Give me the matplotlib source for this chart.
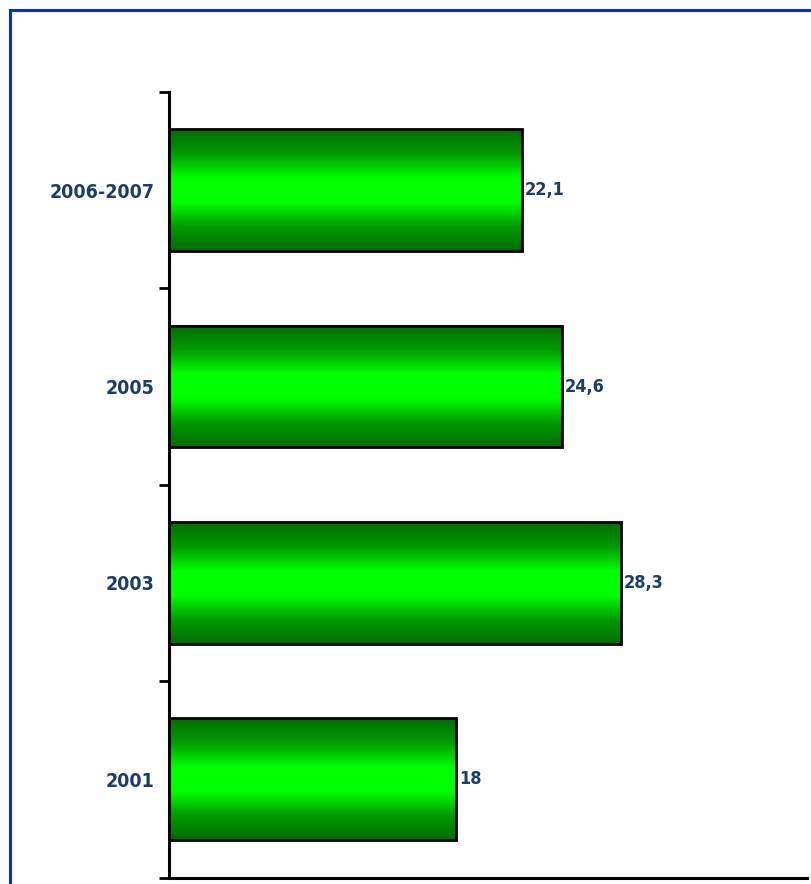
import numpy as np
import matplotlib.pyplot as plt
from matplotlib.colors import LinearSegmentedColormap
from matplotlib.patches import Rectangle

# survey rounds, top to bottom on the chart
periods = ["2006-2007", "2005", "2003", "2001"]
values = [22.1, 24.6, 28.3, 18]
value_labels = ["22,1", "24,6", "28,3", "18"]

text_color = "#1b3d6e"
plt.rcParams["font.family"] = ["DejaVu Sans"]
plt.rcParams["font.stretch"] = "condensed"

W, H = 812, 884
fig = plt.figure(figsize=(W / 100, H / 100), dpi=100)

# blue frame: only the top and left edges fall inside the image
fig.add_artist(Rectangle((10.5 / W, -0.1), 1.2, 1.1 - 10.5 / H,
                         transform=fig.transFigure, fill=False,
                         edgecolor="#0033cc", linewidth=2.2))

ax = fig.add_axes([169.5 / W, (H - 877.5) / H, (807 - 169.5) / W, (877.5 - 92) / H])

# green shading, dark at the edges and bright in the middle
green = LinearSegmentedColormap.from_list(
    "green", ["#006e00", "#009a00", "#00ff00", "#00ff00", "#009a00", "#006e00"])
grad = np.linspace(0, 1, 256).reshape(-1, 1)

ypos = np.arange(len(periods))[::-1]
bar_h = 0.62
bars = ax.barh(ypos, values, height=bar_h, color="none",
               edgecolor="black", linewidth=2, zorder=3)
for b in bars:
    x0, y0 = b.get_x(), b.get_y()
    ax.imshow(grad, cmap=green, aspect="auto", zorder=2,
              extent=[x0, x0 + b.get_width(), y0, y0 + b.get_height()])

for y, v, lab in zip(ypos, values, value_labels):
    ax.text(v + 0.2, y, lab, va="center", ha="left", color=text_color,
            fontsize=13, fontweight="bold", fontstretch="condensed")

ax.set_xlim(0, 40)
ax.set_ylim(-0.5, len(periods) - 0.5)

ax.set_yticks(ypos)
ax.set_yticklabels(periods, color=text_color, fontsize=14, fontweight="bold",
                   fontstretch="condensed")
ax.tick_params(axis="y", length=0, pad=11)
# ticks between categories
ax.set_yticks(np.arange(len(periods) + 1) - 0.5, minor=True)
ax.tick_params(axis="y", which="minor", length=7, width=2, color="black")
ax.set_xticks([])

for s in ["top", "right"]:
    ax.spines[s].set_visible(False)
for s in ["left", "bottom"]:
    ax.spines[s].set_linewidth(2.2)

fig.savefig("out.png", dpi=100, facecolor="white")
